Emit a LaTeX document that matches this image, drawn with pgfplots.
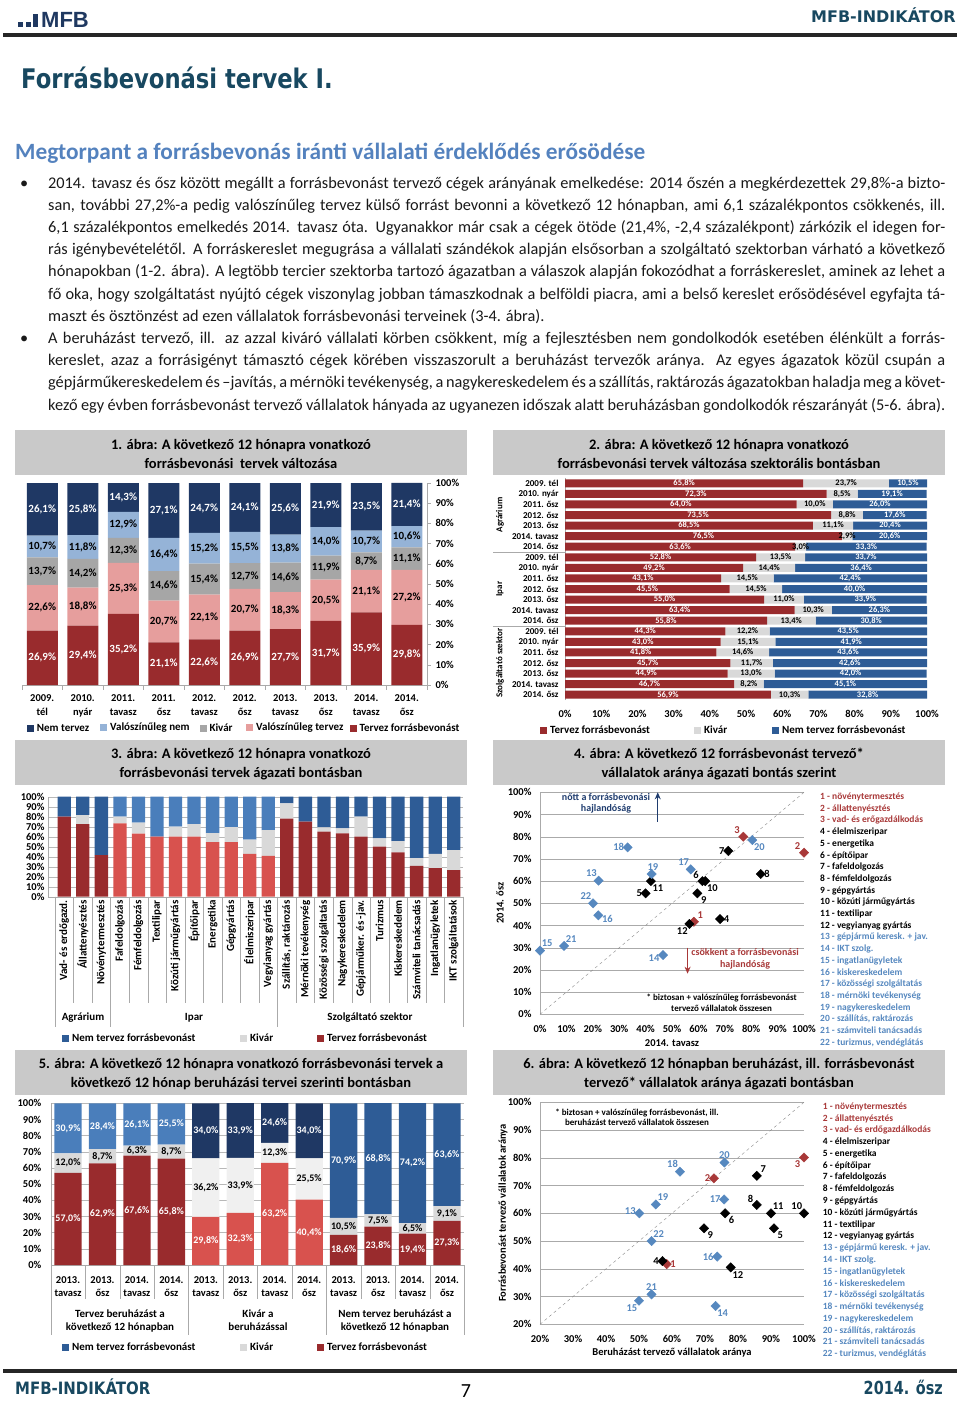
\documentclass[border=0pt]{standalone}
\usepackage{fontspec}
\setmainfont{Carlito}
\newfontfamily\dvs{DejaVu Sans}
\newfontfamily\lsans{Liberation Sans}
\usepackage{graphicx}
\usepackage{pgfplots}
\usepackage{pgfplotstable}
\pgfplotsset{compat=1.18}
\usetikzlibrary{arrows.meta}

\definecolor{tbar}{RGB}{201,201,201}
\definecolor{cnavy}{RGB}{31,56,100}
\definecolor{clblue}{RGB}{149,179,215}
\definecolor{cmgray}{RGB}{166,166,166}
\definecolor{cpink}{RGB}{230,158,157}
\definecolor{cdred}{RGB}{153,43,45}
\definecolor{csblue}{RGB}{46,92,150}
\definecolor{clgray}{RGB}{217,217,217}
\definecolor{cxlgray}{RGB}{240,240,240}
\definecolor{cired}{RGB}{216,82,78}
\definecolor{ciblue}{RGB}{74,126,187}
\definecolor{cpred}{RGB}{168,56,56}
\definecolor{cpblue}{RGB}{86,136,191}
\definecolor{cteal}{RGB}{24,72,96}
\definecolor{csub}{RGB}{84,130,190}
\definecolor{clogo}{RGB}{31,56,96}
\definecolor{cgrid}{RGB}{170,170,170}
\definecolor{carrow}{RGB}{31,60,110}

\newcommand{\ff}[2]{\fontsize{#1}{#2}\selectfont}
\newcommand{\lk}[1]{\textcolor{#1}{\rule{7pt}{7pt}}\hspace{3pt}}
\newcommand{\jl}[1]{\makebox[897pt][s]{#1}}

\pgfplotsset{
  /pgf/number format/assume math mode=true,
  lbl/.style={draw=none, mark=none, point meta=explicit,
    nodes near coords={\pgfmathprintnumber[fixed,fixed zerofill,precision=1,use comma]{\pgfplotspointmeta}\%},
    every node near coord/.append style={anchor=center, inner sep=0pt, text=#1}},
  ovl/.style={anchor=north west, scale only axis, hide axis, clip=false},
  spt/.style={only marks, mark=square*, mark size=3.3pt, mark options={rotate=45, draw=#1, fill=#1},
    nodes near coords, point meta=explicit symbolic,
    visualization depends on={value \thisrow{a} \as \anc},
    every node near coord/.append style={anchor=\anc, text=#1, inner sep=3.5pt, font=\bfseries\ff{10.5}{10.5}}},
}

\newcommand{\seclist}[4]{%
  \foreach \i/\t/\c in {1/{1 -  növénytermesztés}/cpred, 2/{2 - állattenyésztés}/cpred, 3/{#4}/cpred,
    4/{4 - élelmiszeripar}/black, 5/{5 - energetika}/black, 6/{6 - építőipar}/black, 7/{7 - fafeldolgozás}/black,
    8/{8 - fémfeldolgozás}/black, 9/{9 - gépgyártás}/black, 10/{10 - közúti járműgyártás}/black,
    11/{11 - textilipar}/black, 12/{12 - vegyianyag gyártás}/black, 13/{13 - gépjármű keresk. + jav.}/cpblue,
    14/{14 - IKT szolg.}/cpblue, 15/{15 - ingatlanügyletek}/cpblue, 16/{16 - kiskereskedelem}/cpblue,
    17/{17 - közösségi szolgáltatás}/cpblue, 18/{18 - mérnöki tevékenység}/cpblue, 19/{19 - nagykereskedelem}/cpblue,
    20/{20 - szállítás, raktározás}/cpblue, 21/{21 - számviteli tanácsadás}/cpblue, 22/{22 - turizmus, vendéglátás}/cpblue}{
    \node[anchor=base west, inner sep=0pt, text=\c, font=\bfseries\ff{9.5}{9.5}] at ({#1pt},{-#2pt-#3pt*(\i-1)}) {\t};
  }}

% Chart 1 data
\pgfplotstableread{
x t vt k vn n
0 26.9 22.6 13.7 10.7 26.1
1 29.4 18.8 14.2 11.8 25.8
2 35.2 25.3 12.3 12.9 14.3
3 21.1 20.7 14.6 16.4 27.1
4 22.6 22.1 15.4 15.2 24.7
5 26.9 20.7 12.7 15.5 24.1
6 27.7 18.3 14.6 13.8 25.6
7 31.7 20.5 11.9 14.0 21.9
8 35.9 21.1 8.7 10.7 23.5
9 29.8 27.2 11.1 10.6 21.4
}\tabA
% Chart 2 data (y=20 top row)
\pgfplotstableread{
y t k n
20 65.8 23.7 10.5
19 72.3 8.5 19.1
18 64.0 10.0 26.0
17 73.5 8.8 17.6
16 68.5 11.1 20.4
15 76.5 2.9 20.6
14 63.6 3.0 33.3
13 52.8 13.5 33.7
12 49.2 14.4 36.4
11 43.1 14.5 42.4
10 45.5 14.5 40.0
9 55.0 11.0 33.9
8 63.4 10.3 26.3
7 55.8 13.4 30.8
6 44.3 12.2 43.5
5 43.0 15.1 41.9
4 41.8 14.6 43.6
3 45.7 11.7 42.6
2 44.9 13.0 42.0
1 46.7 8.2 45.1
0 56.9 10.3 32.8
}\tabB
% Chart 3 data
\pgfplotstableread{
x t k n
0 80.0 0.0 20.0
1 72.7 9.1 18.2
2 41.7 0.0 58.3
}\tabCa
\pgfplotstableread{
x t k n
3 73.3 6.7 20.0
4 63.0 11.1 25.9
5 60.0 0.0 40.0
6 60.0 10.0 30.0
7 60.0 12.7 27.3
8 54.5 9.1 36.4
9 54.5 15.2 30.3
10 42.9 14.3 42.8
11 40.8 25.9 33.3
}\tabCb
\pgfplotstableread{
x t k n
12 78.0 15.3 6.7
13 75.0 0.0 25.0
14 65.0 4.4 30.6
15 63.3 5.0 31.7
16 60.0 20.0 20.0
17 50.0 8.3 41.7
18 44.4 11.1 44.5
19 30.8 7.7 61.5
20 28.6 14.3 57.1
21 26.7 20.0 53.3
}\tabCc
% Chart 5 data
\pgfplotstableread{
x t k n
0 57.0 12.0 30.9
1 62.9 8.7 28.4
2 67.6 6.3 26.1
3 65.8 8.7 25.5
}\tabEa
\pgfplotstableread{
x t k n
4 29.8 36.2 34.0
5 32.3 33.9 33.9
6 63.2 12.3 24.6
7 40.4 25.5 34.0
}\tabEb
\pgfplotstableread{
x t k n
8 18.6 10.5 70.9
9 23.8 7.5 68.8
10 19.4 6.5 74.2
11 27.3 9.1 63.6
}\tabEc

\begin{document}
\begin{tikzpicture}
\useasboundingbox (0,0) rectangle (960pt,-1401pt);
%% ===== header =====
\fill[clogo] (18pt,-22pt) rectangle (23pt,-27pt);
\fill[clogo] (25.5pt,-22pt) rectangle (30.5pt,-27pt);
\fill[clogo] (33pt,-14pt) rectangle (38pt,-27pt);
\node[anchor=base west, inner sep=0pt, text=clogo, font=\lsans\bfseries\ff{22}{22}] at (41pt,-27pt) {MFB};
\node[anchor=base east, inner sep=0pt, text=cteal, font=\dvs\bfseries\ff{16}{16}] at (956pt,-22pt) {MFB-INDIKÁTOR};
\draw[line width=3.5pt, black!85] (3pt,-35pt) -- (957pt,-35pt);
\node[anchor=base west, inner sep=0pt, text=cteal] at (21pt,-88pt) {\scalebox{0.84}[1]{\dvs\bfseries\ff{27}{27}Forrásbevonási tervek I.}};
\node[anchor=base west, inner sep=0pt, text=csub] at (15pt,-159pt) {\resizebox{630pt}{!}{\bfseries\ff{21}{21}Megtorpant a forrásbevonás iránti vállalati érdeklődés erősödése}};
%% ===== body text =====
\begin{scope}[every node/.style={anchor=base west, inner sep=0pt, text=black!90, font=\ff{16.3}{16.3}}]
\node at (20pt,-188pt) {•};
\node at (48pt,-188pt) {\jl{2014. tavasz és ősz között megállt a forrásbevonást tervező cégek arányának emelkedése: 2014 őszén a megkérdezettek 29,8\%-a bizto-}};
\node at (48pt,-210.2pt) {\jl{san, további 27,2\%-a pedig valószínűleg tervez külső forrást bevonni a következő 12 hónapban, ami 6,1 százalékpontos csökkenés, ill.}};
\node at (48pt,-232.4pt) {\jl{6,1 százalékpontos emelkedés 2014. tavasz óta. Ugyanakkor már csak a cégek ötöde (21,4\%, -2,4 százalékpont) zárkózik el idegen for-}};
\node at (48pt,-254.6pt) {\jl{rás igénybevételétől. A forráskereslet megugrása a vállalati szándékok alapján elsősorban a szolgáltató szektorban várható a következő}};
\node at (48pt,-276.8pt) {\jl{hónapokban (1-2. ábra). A legtöbb tercier szektorba tartozó ágazatban a válaszok alapján fokozódhat a forráskereslet, aminek az lehet a}};
\node at (48pt,-299pt) {\jl{fő oka, hogy szolgáltatást nyújtó cégek viszonylag jobban támaszkodnak a belföldi piacra, ami a belső kereslet erősödésével egyfajta tá-}};
\node at (48pt,-321.2pt) {maszt és ösztönzést ad ezen vállalatok forrásbevonási terveinek (3-4. ábra).};
\node at (20pt,-343.4pt) {•};
\node at (48pt,-343.4pt) {\jl{A beruházást tervező, ill. az azzal kiváró vállalati körben csökkent, míg a fejlesztésben nem gondolkodók esetében élénkült a forrás-}};
\node at (48pt,-365.6pt) {\jl{kereslet, azaz a forrásigényt támasztó cégek körében visszaszorult a beruházást tervezők aránya. Az egyes ágazatok közül csupán a}};
\node at (48pt,-387.8pt) {\jl{gépjárműkereskedelem és –javítás, a mérnöki tevékenység, a nagykereskedelem és a szállítás, raktározás ágazatokban haladja meg a követ-}};
\node at (48pt,-410pt) {\jl{kező egy évben forrásbevonást tervező vállalatok hányada az ugyanezen időszak alatt beruházásban gondolkodók részarányát (5-6. ábra).}};
\end{scope}

%% ===== title bars =====
\fill[tbar] (15pt,-430pt) rectangle (467pt,-475pt);
\fill[tbar] (493pt,-430pt) rectangle (945pt,-475pt);
\fill[tbar] (15pt,-740pt) rectangle (467pt,-785pt);
\fill[tbar] (493pt,-740pt) rectangle (945pt,-785pt);
\fill[tbar] (15pt,-1050pt) rectangle (467pt,-1095pt);
\fill[tbar] (493pt,-1050pt) rectangle (945pt,-1095pt);
\begin{scope}[every node/.style={align=center, font=\bfseries\ff{14.5}{18.3}, text=black}]
\node at (241pt,-454pt) {1. ábra: A következő 12 hónapra vonatkozó\\forrásbevonási\ \ tervek változása};
\node at (719pt,-454pt) {2. ábra: A következő 12 hónapra vonatkozó\\forrásbevonási tervek változása szektorális bontásban};
\node at (241pt,-764pt) {3. ábra: A következő 12 hónapra vonatkozó\\forrásbevonási tervek ágazati bontásban};
\node at (719pt,-764pt) {4. ábra: A következő 12 forrásbevonást tervező*\\vállalatok aránya ágazati bontás szerint};
\node at (241pt,-1074pt) {5. ábra: A következő 12 hónapra vonatkozó forrásbevonási tervek a\\következő 12 hónap beruházási tervei szerinti bontásban};
\node at (719pt,-1074pt) {6. ábra: A következő 12 hónapban beruházást, ill. forrásbevonást\\tervező* vállalatok aránya ágazati bontásban};
\end{scope}

%% ===== Chart 1 =====
\begin{axis}[at={(22pt,-483pt)}, anchor=north west, scale only axis, width=405pt, height=202pt,
  ybar stacked, bar width=31pt, clip=false,
  xmin=-0.5, xmax=9.5, ymin=0, ymax=100,
  axis x line*=bottom, axis y line*=right, axis line style={draw=cgrid},
  tick style={draw=none},
  xtick={0,...,9},
  xticklabels={{2009.\\tél},{2010.\\nyár},{2011.\\tavasz},{2011.\\ősz},{2012.\\tavasz},{2012.\\ősz},{2013.\\tavasz},{2013.\\ősz},{2014.\\tavasz},{2014.\\ősz}},
  xticklabel style={align=center, font=\bfseries\ff{10.5}{14}, yshift=-6pt},
  ytick={0,10,...,100}, yticklabel={\pgfmathprintnumber{\tick}\%},
  yticklabel style={font=\bfseries\ff{10.5}{10.5}, xshift=5pt},
]
\addplot[fill=cdred, draw=none] table[x=x,y=t]{\tabA};
\addplot[fill=cpink, draw=none] table[x=x,y=vt]{\tabA};
\addplot[fill=cmgray, draw=none] table[x=x,y=k]{\tabA};
\addplot[fill=clblue, draw=none] table[x=x,y=vn]{\tabA};
\addplot[fill=cnavy, draw=none] table[x=x,y=n]{\tabA};
\pgfplotsinvokeforeach{-0.5,0.5,...,9.5}{\draw[cgrid] (axis cs:#1,0) -- ++(0pt,-5pt);}
\pgfplotsinvokeforeach{0,10,...,100}{\draw[cgrid] (axis cs:9.5,#1) -- ++(4pt,0pt);}
\end{axis}
\begin{axis}[ovl, at={(22pt,-483pt)}, width=405pt, height=202pt,
  xmin=-0.5, xmax=9.5, ymin=0, ymax=100,
  every node near coord/.append style={font=\bfseries\ff{11}{11}}]
\addplot[lbl=white] table[x=x, y expr=\thisrow{t}/2, meta=t]{\tabA};
\addplot[lbl=black] table[x=x, y expr=\thisrow{t}+\thisrow{vt}/2, meta=vt]{\tabA};
\addplot[lbl=black] table[x=x, y expr=\thisrow{t}+\thisrow{vt}+\thisrow{k}/2, meta=k]{\tabA};
\addplot[lbl=black] table[x=x, y expr=\thisrow{t}+\thisrow{vt}+\thisrow{k}+\thisrow{vn}/2, meta=vn]{\tabA};
\addplot[lbl=white] table[x=x, y expr=\thisrow{t}+\thisrow{vt}+\thisrow{k}+\thisrow{vn}+\thisrow{n}/2, meta=n]{\tabA};
\end{axis}
\begin{scope}[every node/.style={anchor=west, inner sep=0pt, font=\bfseries\ff{11}{11}}]
\node at (26.7pt,-728pt) {\lk{cnavy}Nem tervez};
\node at (100pt,-728pt) {\lk{clblue}Valószínűleg nem};
\node at (199.3pt,-728pt) {\lk{cmgray}Kivár};
\node at (246pt,-728pt) {\lk{cpink}Valószínűleg tervez};
\node at (349.3pt,-728pt) {\lk{cdred}Tervez forrásbevonást};
\end{scope}

%% ===== Chart 2 =====
\begin{axis}[at={(565pt,-478pt)}, anchor=north west, scale only axis, width=362pt, height=222pt,
  xbar stacked, bar width=8pt, clip=false,
  xmin=0, xmax=100, ymin=-0.5, ymax=20.5,
  axis lines*=left, x axis line style={draw=none}, y axis line style={draw=cgrid},
  tick style={draw=none},
  xtick={0,10,...,100}, xticklabel={\pgfmathprintnumber{\tick}\%},
  xticklabel style={font=\bfseries\ff{10.5}{10.5}, yshift=-7pt},
  ytick={0,...,20},
  yticklabels={2014. ősz,2014. tavasz,2013. ősz,2012. ősz,2011. ősz,2010. nyár,2009. tél,2014. ősz,2014. tavasz,2013. ősz,2012. ősz,2011. ősz,2010. nyár,2009. tél,2014. ősz,2014. tavasz,2013. ősz,2012. ősz,2011. ősz,2010. nyár,2009. tél},
  yticklabel style={font=\bfseries\ff{9}{9}, xshift=-3pt},
]
\addplot[fill=cdred, draw=none] table[x=t,y=y]{\tabB};
\addplot[fill=clgray, draw=none] table[x=k,y=y]{\tabB};
\addplot[fill=csblue, draw=none] table[x=n,y=y]{\tabB};
\end{axis}
\begin{axis}[ovl, at={(565pt,-478pt)}, width=362pt, height=222pt,
  xmin=0, xmax=100, ymin=-0.5, ymax=20.5,
  every node near coord/.append style={font=\bfseries\ff{8.5}{8.5}}]
\addplot[lbl=white] table[x expr=\thisrow{t}/2, y=y, meta=t]{\tabB};
\addplot[lbl=black] table[x expr=\thisrow{t}+\thisrow{k}/2, y=y, meta=k]{\tabB};
\addplot[lbl=white] table[x expr=\thisrow{t}+\thisrow{k}+\thisrow{n}/2, y=y, meta=n]{\tabB};
\end{axis}
\draw[cgrid] (493pt,-552pt) -- (565pt,-552pt);
\draw[cgrid] (493pt,-626pt) -- (565pt,-626pt);
\begin{scope}[every node/.style={rotate=90, font=\bfseries\ff{9}{9}}]
\node at (500pt,-515pt) {Agrárium};
\node at (500pt,-589pt) {Ipar};
\node at (500pt,-663pt) {Szolgáltató szektor};
\end{scope}
\begin{scope}[every node/.style={anchor=west, inner sep=0pt, font=\bfseries\ff{11}{11}}]
\node at (540pt,-730pt) {\lk{cdred}Tervez forrásbevonást};
\node at (694pt,-730pt) {\lk{clgray}Kivár};
\node at (772pt,-730pt) {\lk{csblue}Nem tervez forrásbevonást};
\end{scope}

%% ===== Chart 3 =====
\begin{axis}[at={(48pt,-796.7pt)}, anchor=north west, scale only axis, width=415pt, height=100pt,
  ybar stacked, bar width=13.3pt, clip=false,
  xmin=-0.877, xmax=21.5, ymin=0, ymax=100,
  axis lines*=left, axis line style={draw=cgrid}, tick style={draw=none},
  ymajorgrids, grid style={draw=clgray!85!black},
  ytick={0,10,...,100}, yticklabel={\pgfmathprintnumber{\tick}\%},
  yticklabel style={font=\bfseries\ff{10.5}{10.5}},
  xtick={0,...,21},
  xticklabels={Vad- és erdőgazd.,Állattenyésztés,Növénytermesztés,Fafeldolgozás,Fémfeldolgozás,Textilipar,Közúti járműgyártás,Építőipar,Energetika,Gépgyártás,Élelmiszeripar,Vegyianyag gyártás,{Szállítás, raktározás},Mérnöki tevékenység,Közösségi szolgáltatás,Nagykereskedelem,Gépjárműker. és -jav.,Turizmus,Kiskereskedelem,Számviteli tanácsadás,Ingatlanügyletek,IKT szolgáltatások},
  xticklabel style={rotate=90, anchor=east, font=\bfseries\ff{11}{11}},
]
\addplot[fill=cdred, draw=none] table[x=x,y=t]{\tabCa};
\addplot[fill=clgray, draw=none] table[x=x,y=k]{\tabCa};
\addplot[fill=csblue, draw=none] table[x=x,y=n]{\tabCa};
\pgfplotsinvokeforeach{-0.5,0.5,...,21.5}{\draw[cgrid] (axis cs:#1,0) -- ++(0pt,-106pt);}
\pgfplotsinvokeforeach{-0.5,2.5,11.5,21.5}{\draw[cgrid] (axis cs:#1,0) -- ++(0pt,-130pt);}
\end{axis}
\begin{axis}[ovl, at={(48pt,-796.7pt)}, width=415pt, height=100pt,
  ybar stacked, bar width=13.3pt, xmin=-0.877, xmax=21.5, ymin=0, ymax=100]
\addplot[fill=cired, draw=none] table[x=x,y=t]{\tabCb};
\addplot[fill=clgray, draw=none] table[x=x,y=k]{\tabCb};
\addplot[fill=ciblue, draw=none] table[x=x,y=n]{\tabCb};
\end{axis}
\begin{axis}[ovl, at={(48pt,-796.7pt)}, width=415pt, height=100pt,
  ybar stacked, bar width=13.3pt, xmin=-0.877, xmax=21.5, ymin=0, ymax=100]
\addplot[fill=cdred, draw=none] table[x=x,y=t]{\tabCc};
\addplot[fill=clgray, draw=none] table[x=x,y=k]{\tabCc};
\addplot[fill=csblue, draw=none] table[x=x,y=n]{\tabCc};
\end{axis}
\begin{scope}[every node/.style={font=\bfseries\ff{11}{11}}]
\node at (83pt,-1018pt) {Agrárium};
\node at (194pt,-1018pt) {Ipar};
\node at (370pt,-1018pt) {Szolgáltató szektor};
\end{scope}
\begin{scope}[every node/.style={anchor=west, inner sep=0pt, font=\bfseries\ff{11}{11}}]
\node at (62pt,-1038pt) {\lk{csblue}Nem tervez forrásbevonást};
\node at (240pt,-1038pt) {\lk{clgray}Kivár};
\node at (317pt,-1038pt) {\lk{cdred}Tervez forrásbevonást};
\end{scope}

%% ===== Chart 4 =====
\begin{axis}[at={(540pt,-792.3pt)}, anchor=north west, scale only axis, width=264pt, height=222pt,
  xmin=0, xmax=100, ymin=0, ymax=100, clip=false,
  axis lines*=left, axis line style={draw=cgrid}, x axis line style={draw=none},
  ymajorgrids, grid style={draw=cgrid},
  tick style={draw=none},
  xtick={0,10,...,100}, ytick={0,10,...,100},
  xticklabel={\pgfmathprintnumber{\tick}\%}, yticklabel={\pgfmathprintnumber{\tick}\%},
  xticklabel style={font=\bfseries\ff{10.5}{10.5}, yshift=-7pt},
  yticklabel style={font=\bfseries\ff{10.5}{10.5}, xshift=-5pt},
]
\addplot[cgrid!80!black, dashed, thin] coordinates {(0,0) (100,100)};
\addplot[spt=cpred] table[x=x,y=y,meta=l]{
x y l a
58.3 41.7 1 225
100 72.8 2 315
77.0 80.0 3 315
};
\addplot[spt=black] table[x=x,y=y,meta=l]{
x y l a
68.2 42.9 4 180
40.0 54.5 5 0
61.5 60.0 6 315
71.3 73.6 7 0
83.6 63.2 8 180
59.6 54.5 9 135
62.6 60.0 10 135
42.0 60.0 11 135
56.6 40.7 12 45
};
\addplot[spt=cpblue] table[x=x,y=y,meta=l]{
x y l a
22.2 60.2 13 315
46.6 26.7 14 20
0.0 28.7 15 225
22.1 44.6 16 160
57.1 65.3 17 315
33.2 75.2 18 0
42.3 63.2 19 260
80.4 78.5 20 135
9.1 30.8 21 225
20.1 50.0 22 315
};
\draw[-{Stealth[length=7pt,width=6pt]}, line width=1.3pt, carrow] (axis cs:44.6,86.8) -- (axis cs:44.6,100);
\draw[-{Stealth[length=7pt,width=6pt]}, line width=1pt, cpred] (axis cs:55.9,30) -- (axis cs:55.9,18.3);
\node[align=center, text=carrow, font=\bfseries\ff{10}{11.5}] at (axis cs:25,95.1) {nőtt a forrásbevonási\\hajlandóság};
\node[align=center, text=cpred, font=\bfseries\ff{10}{12.5}] at (axis cs:77.7,25.05) {csökkent a forrásbevonási\\hajlandóság};
\node[align=center, text=black, font=\bfseries\ff{9}{10.7}] at (axis cs:68.8,5.1) {* biztosan + valószínűleg forrásbevonást\\tervező vállalatok összesen};
\end{axis}
\node[rotate=90, font=\bfseries\ff{10.5}{10.5}] at (500pt,-903pt) {2014. ősz};
\node[font=\bfseries\ff{10.5}{10.5}] at (672pt,-1043pt) {2014. tavasz};
\seclist{820}{799.5}{11.7}{3 - vad- és erőgazdálkodás}

%% ===== Chart 5 =====
\begin{axis}[at={(50.8pt,-1103.3pt)}, anchor=north west, scale only axis, width=413.4pt, height=161.7pt,
  ybar stacked, bar width=27.3pt, clip=false,
  xmin=-0.5, xmax=11.5, ymin=0, ymax=100,
  axis lines*=left, axis line style={draw=cgrid}, tick style={draw=none},
  ymajorgrids, grid style={draw=clgray!85!black},
  ytick={0,10,...,100}, yticklabel={\pgfmathprintnumber{\tick}\%},
  yticklabel style={font=\bfseries\ff{10.5}{10.5}, xshift=-6pt},
  xtick={0,...,11},
  xticklabels={{2013.\\tavasz},{2013.\\ősz},{2014.\\tavasz},{2014.\\ősz},{2013.\\tavasz},{2013.\\ősz},{2014.\\tavasz},{2014.\\ősz},{2013.\\tavasz},{2013.\\ősz},{2014.\\tavasz},{2014.\\ősz}},
  xticklabel style={align=center, font=\bfseries\ff{10.5}{13}, yshift=-8pt},
]
\addplot[fill=cdred, draw=none] table[x=x,y=t]{\tabEa};
\addplot[fill=clgray, draw=none] table[x=x,y=k]{\tabEa};
\addplot[fill=ciblue, draw=none] table[x=x,y=n]{\tabEa};
\pgfplotsinvokeforeach{-0.5,0.5,...,11.5}{\draw[cgrid] (axis cs:#1,0) -- ++(0pt,-34pt);}
\pgfplotsinvokeforeach{-0.5,3.5,7.5,11.5}{\draw[cgrid] (axis cs:#1,0) -- ++(0pt,-70pt);}
\end{axis}
\begin{axis}[ovl, at={(50.8pt,-1103.3pt)}, width=413.4pt, height=161.7pt,
  ybar stacked, bar width=27.3pt, xmin=-0.5, xmax=11.5, ymin=0, ymax=100]
\addplot[fill=cired, draw=none] table[x=x,y=t]{\tabEb};
\addplot[fill=cxlgray, draw=none] table[x=x,y=k]{\tabEb};
\addplot[fill=cnavy, draw=none] table[x=x,y=n]{\tabEb};
\end{axis}
\begin{axis}[ovl, at={(50.8pt,-1103.3pt)}, width=413.4pt, height=161.7pt,
  ybar stacked, bar width=27.3pt, xmin=-0.5, xmax=11.5, ymin=0, ymax=100]
\addplot[fill=cdred, draw=none] table[x=x,y=t]{\tabEc};
\addplot[fill=clgray, draw=none] table[x=x,y=k]{\tabEc};
\addplot[fill=csblue, draw=none] table[x=x,y=n]{\tabEc};
\end{axis}
\begin{axis}[ovl, at={(50.8pt,-1103.3pt)}, width=413.4pt, height=161.7pt,
  xmin=-0.5, xmax=11.5, ymin=0, ymax=100,
  every node near coord/.append style={font=\bfseries\ff{10}{10}}]
\addplot[lbl=white] table[x=x, y expr=\thisrow{t}/2, meta=t]{\tabEa};
\addplot[lbl=black] table[x=x, y expr=\thisrow{t}+\thisrow{k}/2, meta=k]{\tabEa};
\addplot[lbl=white] table[x=x, y expr=\thisrow{t}+\thisrow{k}+\thisrow{n}/2, meta=n]{\tabEa};
\addplot[lbl=white] table[x=x, y expr=\thisrow{t}/2, meta=t]{\tabEb};
\addplot[lbl=black] table[x=x, y expr=\thisrow{t}+\thisrow{k}/2, meta=k]{\tabEb};
\addplot[lbl=white] table[x=x, y expr=\thisrow{t}+\thisrow{k}+\thisrow{n}/2, meta=n]{\tabEb};
\addplot[lbl=white] table[x=x, y expr=\thisrow{t}/2, meta=t]{\tabEc};
\addplot[lbl=black] table[x=x, y expr=\thisrow{t}+\thisrow{k}/2, meta=k]{\tabEc};
\addplot[lbl=white] table[x=x, y expr=\thisrow{t}+\thisrow{k}+\thisrow{n}/2, meta=n]{\tabEc};
\end{axis}
\begin{scope}[every node/.style={align=center, font=\bfseries\ff{11}{13}}]
\node at (120pt,-1320.5pt) {Tervez beruházást a\\következő 12 hónapban};
\node at (258pt,-1320.5pt) {Kivár a\\beruházással};
\node at (395pt,-1320.5pt) {Nem tervez beruházást a\\következő 12 hónapban};
\end{scope}
\begin{scope}[every node/.style={anchor=west, inner sep=0pt, font=\bfseries\ff{11}{11}}]
\node at (62pt,-1347pt) {\lk{csblue}Nem tervez forrásbevonást};
\node at (240pt,-1347pt) {\lk{clgray}Kivár};
\node at (317pt,-1347pt) {\lk{cdred}Tervez forrásbevonást};
\end{scope}

%% ===== Chart 6 =====
\begin{axis}[at={(540pt,-1102.3pt)}, anchor=north west, scale only axis, width=264pt, height=222pt,
  xmin=20, xmax=100, ymin=20, ymax=100, clip=false,
  axis lines*=left, axis line style={draw=cgrid}, x axis line style={draw=none},
  ymajorgrids, grid style={draw=cgrid},
  tick style={draw=none},
  xtick={20,30,...,100}, ytick={20,30,...,100},
  xticklabel={\pgfmathprintnumber{\tick}\%}, yticklabel={\pgfmathprintnumber{\tick}\%},
  xticklabel style={font=\bfseries\ff{10.5}{10.5}, yshift=-7pt},
  yticklabel style={font=\bfseries\ff{10.5}{10.5}, xshift=-5pt},
]
\addplot[cgrid!80!black, dashed, thin] coordinates {(20,20) (100,100)};
\addplot[spt=cpred] table[x=x,y=y,meta=l]{
x y l a
58.4 41.7 1 180
72.7 72.6 2 0
100 80.1 3 45
};
\addplot[spt=black] table[x=x,y=y,meta=l]{
x y l a
57.1 42.8 4 0
90.9 54.6 5 135
76.1 60.0 6 135
85.7 73.5 7 225
85.7 63.0 8 315
69.7 54.6 9 135
100 60.0 10 315
90.0 60.0 11 225
77.8 40.5 12 135
};
\addplot[spt=cpblue] table[x=x,y=y,meta=l]{
x y l a
50.1 60.0 13 345
73.2 26.6 14 135
50.0 28.5 15 45
73.7 44.4 16 0
75.8 65.0 17 0
62.4 75.0 18 315
55.1 63.2 19 225
75.9 78.3 20 270
53.8 30.8 21 270
53.8 50.0 22 225
};
\node[align=center, text=black, font=\bfseries\ff{9}{10}] at (axis cs:49.4,94.7) {* biztosan + valószínűleg forrásbevonást, ill.\\beruházást tervező vállalatok összesen};
\end{axis}
\node[rotate=90, font=\bfseries\ff{10.5}{10.5}] at (503pt,-1213pt) {Forrásbevonást tervező vállalatok aránya};
\node[font=\bfseries\ff{10.5}{10.5}] at (672pt,-1353pt) {Beruházást tervező vállalatok aránya};
\seclist{822.7}{1109.3}{11.78}{3 - vad- és erdőgazdálkodás}

%% ===== footer =====
\draw[line width=3.5pt, black!85] (3pt,-1371pt) -- (957pt,-1371pt);
\node[anchor=base west, inner sep=0pt, text=cteal] at (15pt,-1394pt) {\scalebox{0.88}[1]{\dvs\bfseries\ff{17}{17}MFB-INDIKÁTOR}};
\node[anchor=base, inner sep=0pt, text=black] at (466pt,-1397pt) {\ff{20}{20}7};
\node[anchor=base east, inner sep=0pt, text=cteal] at (943pt,-1394pt) {\scalebox{0.8}[1]{\dvs\bfseries\ff{18}{18}2014. ősz}};
\end{tikzpicture}
\end{document}
